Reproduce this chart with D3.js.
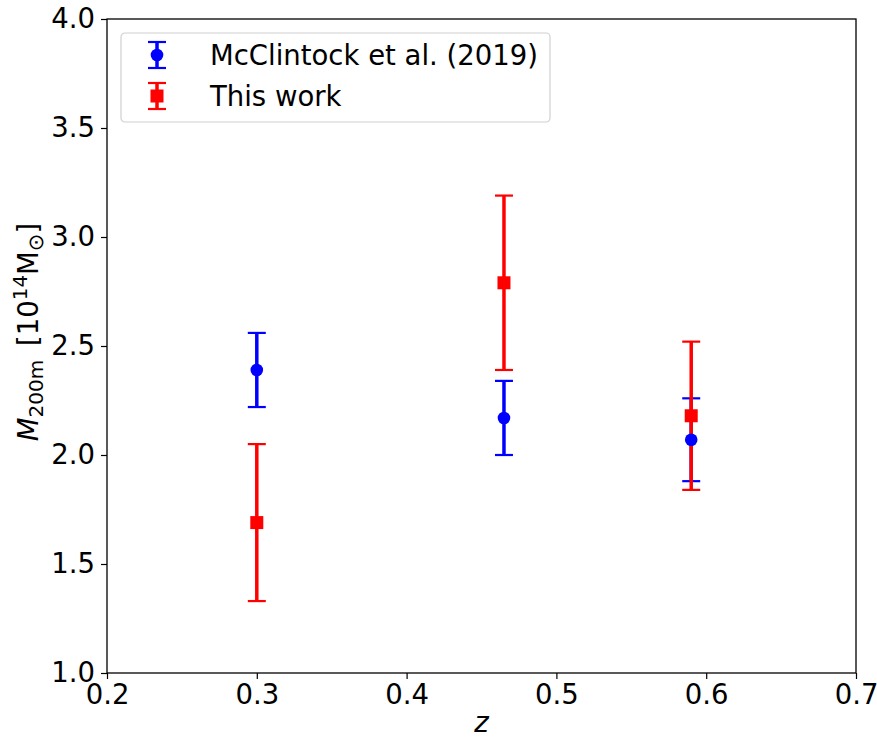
<!DOCTYPE html>
<html>
<head>
<meta charset="utf-8">
<script src="https://cdn.jsdelivr.net/npm/d3@7"></script>
<style>
  body { margin: 0; background: #fff; }
  text { font-family: "DejaVu Sans", sans-serif; }
</style>
</head>
<body>
<div id="chart"></div>
<script>
// Data
const zValues = [0.3, 0.465, 0.59];
const mcMass = [2.39, 2.17, 2.07];
const mcErr = [0.17, 0.17, 0.19];
const twMass = [1.69, 2.79, 2.18];
const twErr = [0.36, 0.40, 0.34];
const xTicks = [0.2, 0.3, 0.4, 0.5, 0.6, 0.7];
const yTicks = [1.0, 1.5, 2.0, 2.5, 3.0, 3.5, 4.0];

const svgWidth = 877, svgHeight = 740;
const margin = {top: 19, right: 20, bottom: 67, left: 107};
const width = 856 - margin.left;
const height = 673 - margin.top;
const fontSize = 27.5;

const svg = d3.select("#chart").append("svg")
  .attr("width", svgWidth)
  .attr("height", svgHeight);

const g = svg.append("g")
  .attr("transform", `translate(${margin.left}, ${margin.top})`);

const x = d3.scaleLinear().domain([0.2, 0.7]).range([0, width]);
const y = d3.scaleLinear().domain([1.0, 4.0]).range([height, 0]);

// Axes
const xAxis = d3.axisBottom(x).tickValues(xTicks).tickFormat(d3.format(".1f")).tickSize(6).tickPadding(5);
const yAxis = d3.axisLeft(y).tickValues(yTicks).tickFormat(d3.format(".1f")).tickSize(6).tickPadding(6);

const gx = g.append("g").attr("transform", `translate(0, ${height})`).call(xAxis);
const gy = g.append("g").call(yAxis);
[gx, gy].forEach(a => {
  a.select(".domain").remove();
  a.selectAll("line").attr("stroke", "#000").attr("stroke-width", 1.2);
  a.selectAll("text").attr("font-size", fontSize).attr("fill", "#000")
    .style("font-family", "DejaVu Sans");
});

// frame
g.append("rect")
  .attr("width", width).attr("height", height)
  .attr("fill", "none").attr("stroke", "#000").attr("stroke-width", 1.3);

const series = [
  {name: "McClintock et al. (2019)", color: "#0000ff", mass: mcMass, err: mcErr, marker: "circle"},
  {name: "This work", color: "#ff0000", mass: twMass, err: twErr, marker: "square"}
];

const capHalf = 9;

function drawBar(sel, cx, yTop, yBot, color) {
  sel.append("line").attr("x1", cx).attr("x2", cx).attr("y1", yTop).attr("y2", yBot)
    .attr("stroke", color).attr("stroke-width", 3.5);
  [yTop, yBot].forEach(yy => sel.append("line")
    .attr("x1", cx - capHalf).attr("x2", cx + capHalf).attr("y1", yy).attr("y2", yy)
    .attr("stroke", color).attr("stroke-width", 2.2));
}

function drawMarker(sel, cx, cy, s) {
  if (s.marker === "circle") {
    sel.append("circle").attr("cx", cx).attr("cy", cy).attr("r", 6.3).attr("fill", s.color);
  } else {
    sel.append("rect").attr("x", cx - 6.5).attr("y", cy - 6.5)
      .attr("width", 13).attr("height", 13).attr("fill", s.color);
  }
}

// error bars first, markers on top (matplotlib zorder)
const bars = g.append("g");
series.forEach(s => {
  zValues.forEach((z, i) => drawBar(bars, x(z), y(s.mass[i] + s.err[i]), y(s.mass[i] - s.err[i]), s.color));
});
const marks = g.append("g");
series.forEach(s => {
  zValues.forEach((z, i) => drawMarker(marks, x(z), y(s.mass[i]), s));
});

// Legend
const legend = svg.append("g").attr("transform", "translate(121, 33)");
legend.append("rect")
  .attr("width", 429).attr("height", 89).attr("rx", 4)
  .attr("fill", "#fff").attr("fill-opacity", 0.8)
  .attr("stroke", "#d0d0d0").attr("stroke-width", 1.2);

series.forEach((s, i) => {
  const cy = 22 + i * 41;
  drawBar(legend, 36, cy - 13, cy + 13, s.color);
  drawMarker(legend, 36, cy, s);
  legend.append("text")
    .attr("x", 89).attr("y", cy + 10)
    .attr("font-size", fontSize)
    .text(s.name);
});

// Axis labels
svg.append("text")
  .attr("x", margin.left + width / 2).attr("y", 732)
  .attr("text-anchor", "middle")
  .attr("font-size", fontSize)
  .attr("font-style", "italic")
  .text("z");

const ylab = svg.append("text")
  .attr("transform", `translate(38, ${margin.top + height / 2 - 14}) rotate(-90)`)
  .attr("text-anchor", "middle")
  .attr("font-size", fontSize);
ylab.append("tspan").attr("font-style", "italic").text("M");
ylab.append("tspan").attr("font-size", 20).attr("dy", 5).text("200m");
ylab.append("tspan").attr("dy", -5).text("\u2002[10");
ylab.append("tspan").attr("font-size", 20).attr("dy", -11).text("14");
ylab.append("tspan").attr("dy", 11).text("M");
ylab.append("tspan").attr("font-size", 21).attr("dy", 5).text("\u2299");
ylab.append("tspan").attr("dy", -5).text("]");
</script>
</body>
</html>
